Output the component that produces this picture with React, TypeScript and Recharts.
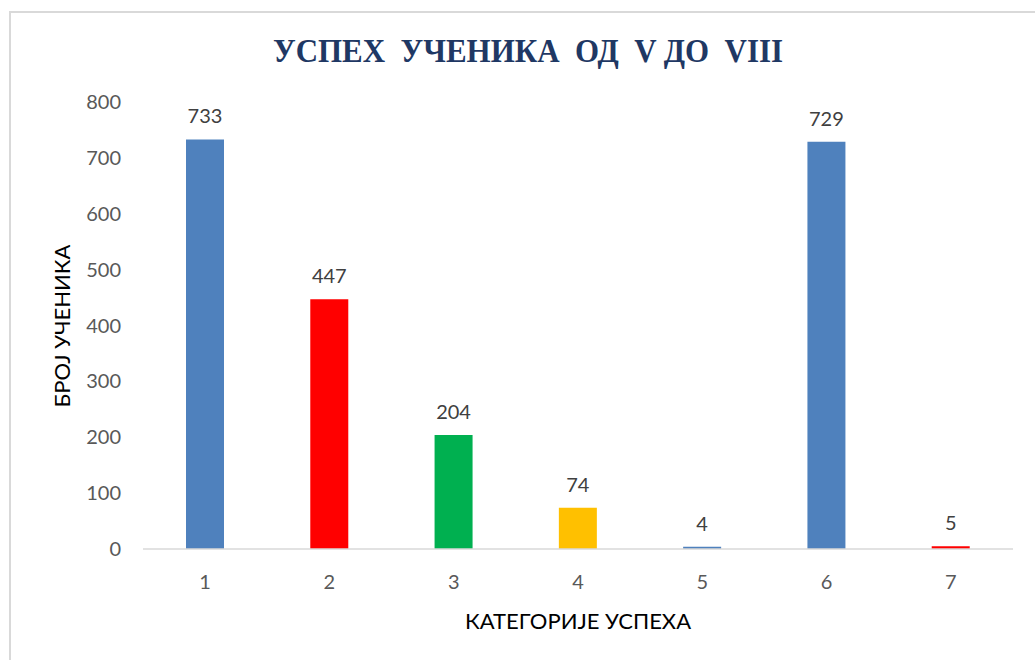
import { BarChart, Bar, XAxis, YAxis, Cell, LabelList } from 'recharts';

const categories = ['1', '2', '3', '4', '5', '6', '7'];
const students = [733, 447, 204, 74, 4, 729, 5];
const barColors = ['#4F81BD', '#FF0000', '#00B050', '#FFC000', '#4F81BD', '#4F81BD', '#FF0000'];
const yTicks = [0, 100, 200, 300, 400, 500, 600, 700, 800];

const data = categories.map((c, i) => ({ category: c, value: students[i] }));

const FONT = 'Lato, Carlito, Calibri, sans-serif';

export default function App() {
  return (
    <div style={{ position: 'absolute', left: 0, top: 0, width: 1035, height: 660, background: '#fff', overflow: 'hidden', fontFamily: FONT }}>
      {/* chart frame */}
      <div style={{ position: 'absolute', left: 9, top: 11, width: 1040, height: 660, border: '2px solid #d9d9d9', boxSizing: 'border-box' }} />

      <div style={{ position: 'absolute', left: 0, top: 32, width: 1056, textAlign: 'center', fontFamily: '"Liberation Serif", "Times New Roman", serif', fontWeight: 'bold', fontSize: 34, color: '#1F3864', whiteSpace: 'pre', transform: 'scaleX(0.91)', transformOrigin: '528px 0' }}>
        {'УСПЕХ  УЧЕНИКА  ОД  V ДО  VIII'}
      </div>

      <div style={{ position: 'absolute', left: 61, top: 326, transform: 'translate(-50%, -50%) rotate(-90deg)', fontSize: 22, color: '#000', whiteSpace: 'nowrap' }}>
        БРОЈ УЧЕНИКА
      </div>

      <div style={{ position: 'absolute', left: 578, top: 620, transform: 'translate(-50%, -50%)', fontSize: 22, color: '#000', whiteSpace: 'nowrap' }}>
        КАТЕГОРИЈЕ УСПЕХА
      </div>

      <div style={{ position: 'absolute', left: 0, top: 0 }}>
        <BarChart width={1035} height={660} data={data} margin={{ top: 102, right: 22, left: 63, bottom: 71 }}>
          <XAxis
            dataKey="category"
            height={40}
            tickLine={false}
            tickSize={0}
            tickMargin={26}
            axisLine={{ stroke: '#d9d9d9', strokeWidth: 1.5 }}
            tick={{ fill: '#595959', fontSize: 20, fontFamily: FONT }}
          />
          <YAxis
            width={80}
            domain={[0, 800]}
            ticks={yTicks}
            tickLine={false}
            axisLine={false}
            tickSize={0}
            tickMargin={22}
            tick={{ fill: '#595959', fontSize: 20, fontFamily: FONT }}
          />
          <Bar dataKey="value" barSize={38} isAnimationActive={false}>
            {data.map((d, i) => (
              <Cell key={d.category} fill={barColors[i]} />
            ))}
            <LabelList dataKey="value" position="top" offset={16} fill="#404040" fontSize={20} fontFamily={FONT} />
          </Bar>
        </BarChart>
      </div>
    </div>
  );
}
